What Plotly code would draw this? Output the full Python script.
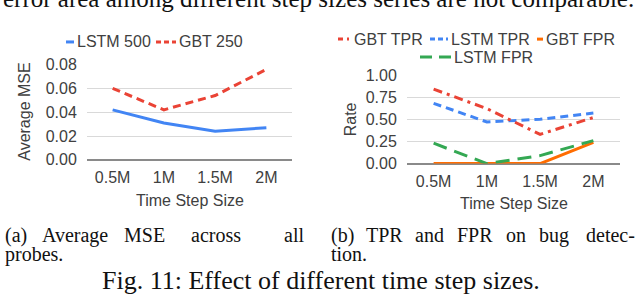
import plotly.graph_objects as go

W, H = 640, 299

# ---------------- data ----------------
categories = ["0.5M", "1M", "1.5M", "2M"]

mse_lstm_500 = [0.042, 0.031, 0.024, 0.027]
mse_gbt_250 = [0.060, 0.042, 0.054, 0.076]

gbt_tpr = [0.84, 0.62, 0.33, 0.52]
lstm_tpr = [0.68, 0.47, 0.50, 0.57]
gbt_fpr = [0.0, 0.0, 0.0, 0.24]
lstm_fpr = [0.23, 0.0, 0.09, 0.26]

left_ticks = [0.00, 0.02, 0.04, 0.06, 0.08]
right_ticks = [0.00, 0.25, 0.50, 0.75, 1.00]

# ---------------- styles ----------------
BLUE = "#4285F4"
RED = "#EA4335"
ORANGE = "#FF6D01"
GREEN = "#34A853"
TXT = "#404040"
BLACK = "#111111"
SANS = "Liberation Sans, Arial, sans-serif"
SERIF = "Liberation Serif, Times New Roman, serif"


def px(x):
    return x / W


def py(y):
    return 1 - y / H


fig = go.Figure()

left_series = [
    ("LSTM 500", mse_lstm_500, BLUE, "solid"),
    ("GBT 250", mse_gbt_250, RED, "8px,5px"),
]
right_series = [
    ("GBT TPR", gbt_tpr, RED, "9px,5px,3px,5px"),
    ("LSTM TPR", lstm_tpr, BLUE, "8px,5px"),
    ("GBT FPR", gbt_fpr, ORANGE, "solid"),
    ("LSTM FPR", lstm_fpr, GREEN, "14px,8px"),
]

for name, vals, col, dash in left_series:
    fig.add_trace(go.Scatter(x=categories, y=vals, mode="lines", name=name,
                             line=dict(color=col, width=3, dash=dash),
                             xaxis="x", yaxis="y", showlegend=False))
for name, vals, col, dash in [right_series[2], right_series[3], right_series[1], right_series[0]]:
    fig.add_trace(go.Scatter(x=categories, y=vals, mode="lines", name=name,
                             line=dict(color=col, width=3, dash=dash),
                             xaxis="x2", yaxis="y2", showlegend=False))

axis_common = dict(
    type="category",
    showgrid=False,
    showline=False,
    zeroline=False,
    ticks="outside",
    ticklen=3,
    tickcolor="rgba(0,0,0,0)",
    tickfont=dict(family=SANS, size=16, color=TXT),
    fixedrange=True,
)
yaxis_common = dict(
    showgrid=True,
    gridcolor="#d9d9d9",
    gridwidth=1,
    zeroline=True,
    zerolinecolor="#8a8a8a",
    zerolinewidth=1.5,
    showline=False,
    ticks="outside",
    ticklen=6,
    tickcolor="rgba(0,0,0,0)",
    tickfont=dict(family=SANS, size=16, color=TXT),
    tickformat=".2f",
    fixedrange=True,
)

fig.update_layout(
    width=W, height=H,
    margin=dict(l=0, r=0, t=0, b=0),
    paper_bgcolor="white",
    plot_bgcolor="white",
    showlegend=False,
    xaxis=dict(domain=[px(87), px(292)], range=[-0.5, 3.5], anchor="y", **axis_common),
    yaxis=dict(domain=[py(161), py(60)], range=[0, 0.08], tickvals=left_ticks,
               anchor="x", **yaxis_common),
    xaxis2=dict(domain=[px(407), px(620)], range=[-0.5, 3.5], anchor="y2", **axis_common),
    yaxis2=dict(domain=[py(165), py(71)], range=[0, 1.0], tickvals=right_ticks,
                anchor="x2", **yaxis_common),
)

annotations = []
shapes = []


def text(x, y, s, size=16, family=SANS, color=TXT, xanchor="center", yanchor="middle", angle=0):
    annotations.append(dict(x=px(x), y=py(y), xref="paper", yref="paper", text=s,
                            showarrow=False, xanchor=xanchor, yanchor=yanchor,
                            textangle=angle, borderpad=0,
                            font=dict(family=family, size=size, color=color)))


def legend_line(x0, x1, y, color, dash):
    shapes.append(dict(type="line", xref="paper", yref="paper",
                       x0=px(x0), x1=px(x1), y0=py(y), y1=py(y),
                       line=dict(color=color, width=3, dash=dash)))


# axis titles
text(189.5, 204, "Time Step Size")
text(25, 110, "Average MSE", angle=-90)
text(513.5, 207, "Time Step Size")
text(350, 118, "Rate", angle=-90)

# left legend
legend_line(66, 74, 36, BLUE, "solid")
text(76, 36, left_series[0][0], xanchor="left")
legend_line(156, 176, 36, RED, "5px,3px")
text(178, 36, left_series[1][0], xanchor="left")

# right legend
legend_line(338, 352, 33, RED, "5px,4px,2px,4px")
text(353, 33, right_series[0][0], xanchor="left")
legend_line(430, 448, 33, BLUE, "5px,3px")
text(450, 33, right_series[1][0], xanchor="left")
legend_line(537, 543, 33, ORANGE, "solid")
text(545, 33, right_series[2][0], xanchor="left")
legend_line(420, 451, 52, GREEN, "12px,7px")
text(453, 52, right_series[3][0], xanchor="left")

# sub-captions, words spread to mimic justified text
CAP = 20
cap_words_a = [("(a)", 4), ("Average", 41), ("MSE", 123), ("across", 190), ("all", 283)]
for w, x in cap_words_a:
    text(x, 241, w, size=CAP, family=SERIF, color=BLACK, xanchor="left")
text(4, 261, "probes.", size=CAP, family=SERIF, color=BLACK, xanchor="left")

cap_words_b = [("(b)", 330), ("TPR", 365), ("and", 414), ("FPR", 456), ("on", 505),
               ("bug", 538), ("detec-", 585)]
for w, x in cap_words_b:
    text(x, 241, w, size=CAP, family=SERIF, color=BLACK, xanchor="left")
text(330, 261, "tion.", size=CAP, family=SERIF, color=BLACK, xanchor="left")

text(321, 289, "Fig. 11: Effect of different time step sizes.", size=26, family=SERIF,
     color=BLACK)

# cropped line of body text at the very top
text(318, -10, "error area among different step sizes series are not comparable.",
     size=25, family=SERIF, color=BLACK)

fig.update_layout(annotations=annotations, shapes=shapes)

fig.write_html("out.html",
               config={"displayModeBar": False},
               post_script="document.body.style.margin='0';document.body.style.overflow='hidden';")
